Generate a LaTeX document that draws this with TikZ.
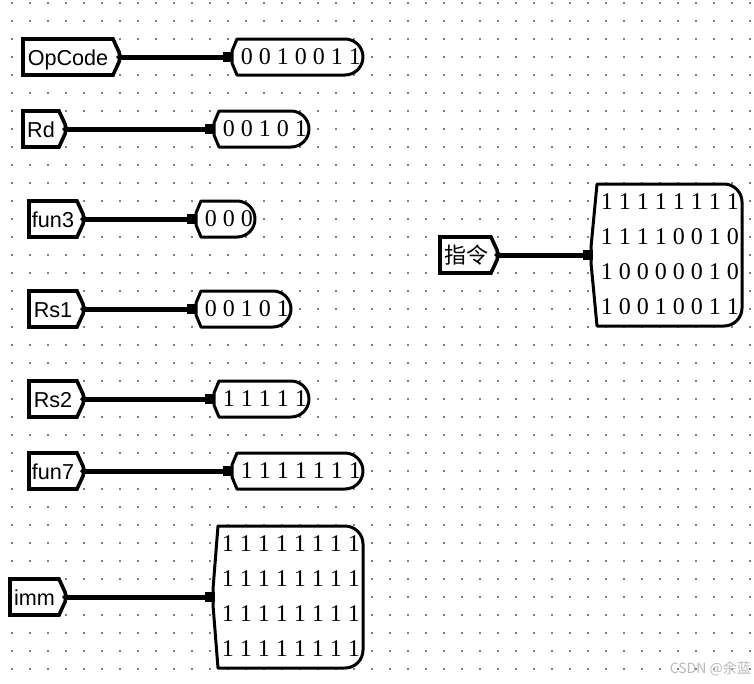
\documentclass[tikz,border=0pt]{standalone}
\usepackage{fontspec}
\setmainfont{Liberation Serif}
\newfontfamily\pinfont{Liberation Sans}
\newfontfamily\cjk{Noto Sans CJK SC}
\begin{document}
\begin{tikzpicture}[x=1pt,y=-1pt,
        tunnel/.style={draw,line width=3.6pt,fill=white,line join=miter},
        probe/.style={draw,line width=3pt,fill=white,line join=round},
        wire/.style={line width=5pt},
        tunlabel/.style={inner sep=0pt,anchor=base,font=\pinfont\fontsize{21.6}{24}\selectfont},
        bits/.style={inner sep=0pt,anchor=east,font=\fontsize{24}{28}\selectfont}]
        \useasboundingbox (0,0) rectangle (754,683);
        \fill[white] (0,0) rectangle (754,683);
        \foreach \i in {0,...,41} \foreach \j in {0,...,37}
            \fill[gray] ({11+18*\i},{2+18*\j}) rectangle ++(2,2);
        \foreach \name/\L/\T/\y/\C/\R/\val in {OpCode/23/120/57/228/363/0 0 1 0 0 1 1,Rd/23/66/129/210/309/0 0 1 0 1,fun3/29/84/219/192/255/0 0 0,Rs1/29/84/309/192/291/0 0 1 0 1,Rs2/29/84/399/210/309/1 1 1 1 1,fun7/29/84/471/228/363/1 1 1 1 1 1 1}
        {
            \draw[tunnel] (\L,\y-18) -- (\T-7,\y-18) -- (\T-1,\y-5) -- (\T,\y) -- (\T-1,\y+5) -- (\T-7,\y+18) -- (\L,\y+18) -- cycle;
            \node[tunlabel] (tun-\name) at ({(\L+\T-7)/2},\y+8) {\name};
            \draw[probe] (\C+9,\y-18) -- (\R-18,\y-18) arc[start angle=-90,end angle=90,radius=18] -- (\C+9,\y+18) -- (\C+4,\y+6) -- (\C+4,\y-6) -- cycle;
            \node[bits] (val-\name) at (\R-2,\y) {\val};
            \coordinate (tip-\name) at (\T,\y);
            \coordinate (pin-\name) at (\C,\y);
            \draw[wire] (tip-\name) -- (pin-\name);
            \fill (\C-5,\y-5) rectangle (\C+5,\y+5);
            \fill (\T-4,\y) -- (\T,\y-4) -- (\T+4,\y) -- (\T,\y+4) -- cycle;
        }
        \draw[tunnel] (10,579) -- (59,579) -- (65,592) -- (66,597) -- (65,602) -- (59,615) -- (10,615) -- cycle;
        \node[tunlabel] (tun-imm) at (34.5,605) {imm};
        \draw[probe] (218,526) -- (345,526) arc[start angle=-90,end angle=0,radius=18] -- (363,650) arc[start angle=0,end angle=90,radius=18] -- (218,668) -- (213,605) -- (213,589) -- cycle;
        \node[bits] (imm-a) at (360,544) {1 1 1 1 1 1 1 1};
        \node[bits] (imm-b) at (360,579) {1 1 1 1 1 1 1 1};
        \node[bits] (imm-c) at (360,614) {1 1 1 1 1 1 1 1};
        \node[bits] (imm-d) at (360,649) {1 1 1 1 1 1 1 1};
        \coordinate (tip-imm) at (66,597);
        \coordinate (pin-imm) at (210,597);
        \draw[wire] (tip-imm) -- (pin-imm);
        \fill (205,592) rectangle (215,602);
        \fill (62,597) -- (66,593) -- (70,597) -- (66,601) -- cycle;
        \draw[tunnel] (440,237) -- (491,237) -- (497,250) -- (498,255) -- (497,260) -- (491,273) -- (440,273) -- cycle;
        \node[inner sep=0pt,font=\cjk\fontsize{22}{24}\selectfont] (tun-instr) at (466,255) {指令};
        \draw[probe] (597,184) -- (724,184) arc[start angle=-90,end angle=0,radius=18] -- (742,308) arc[start angle=0,end angle=90,radius=18] -- (597,326) -- (591,263) -- (591,247) -- cycle;
        \node[bits] (instr-a) at (739,202) {1 1 1 1 1 1 1 1};
        \node[bits] (instr-b) at (739,237) {1 1 1 1 0 0 1 0};
        \node[bits] (instr-c) at (739,272) {1 0 0 0 0 0 1 0};
        \node[bits] (instr-d) at (739,307) {1 0 0 1 0 0 1 1};
        \coordinate (tip-instr) at (498,255);
        \coordinate (pin-instr) at (588,255);
        \draw[wire] (tip-instr) -- (pin-instr);
        \fill (583,250) rectangle (593,260);
        \fill (494,255) -- (498,251) -- (502,255) -- (498,259) -- cycle;
        \node[inner sep=0pt,anchor=east,text=gray!55,font=\cjk\fontsize{14}{16}\selectfont] (mark) at (751,669) {CSDN @余蓝};
    \end{tikzpicture}
\end{document}
